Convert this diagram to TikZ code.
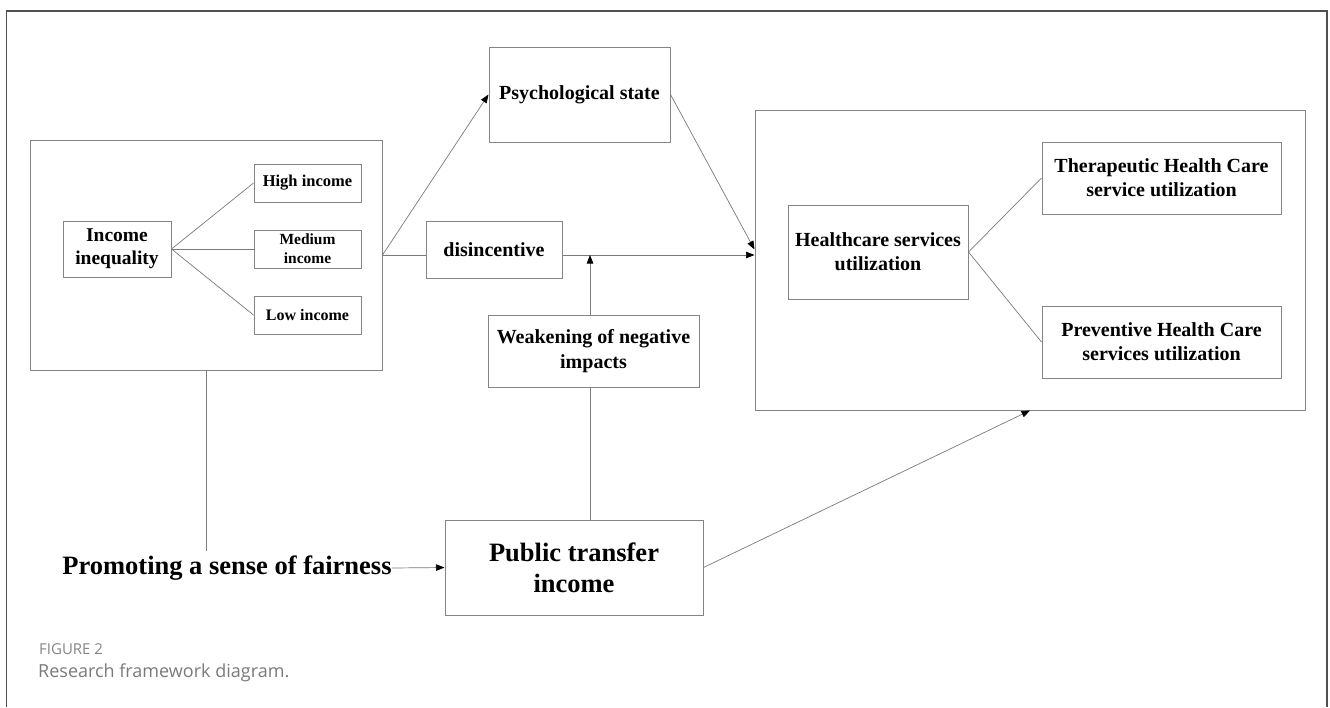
\documentclass[tikz,border=0pt]{standalone}
\usepackage{fontspec}
\setmainfont{Liberation Serif}
\newfontfamily\capfont{Open Sans}
\usetikzlibrary{arrows.meta,calc}
\definecolor{boxgray}{HTML}{858585}
\definecolor{linegray}{HTML}{7A7A7A}
\definecolor{framegray}{HTML}{505050}
\definecolor{capgrayA}{HTML}{858585}
\definecolor{capgrayB}{HTML}{7A7A7A}
\newcommand{\fs}[2]{\fontsize{#1}{#2}\selectfont}
\tikzset{
  x=1pt, y=-1pt,
  box/.style={draw=boxgray, line width=1pt, inner sep=0pt, align=center, font=\bfseries},
  conn/.style={draw=linegray, line width=0.7pt},
  arr/.style={conn, -{Triangle[length=8.5pt,width=6.5pt,color=black]}},
}
\begin{document}
\begin{tikzpicture}
\useasboundingbox (0,0) rectangle (1330,707);
\draw[framegray, line width=1.3pt] (6.7,707) -- (6.7,11) -- (1327,11) -- (1327,707);

% left group
\node[box, minimum width=352pt, minimum height=230pt] (grp) at (206,255) {};
\node[box, minimum width=108pt, minimum height=56pt, font=\bfseries\fs{19.5}{23}] (inc) at (117,249) {Income\\inequality};
\node[box, minimum width=107pt, minimum height=38pt, font=\bfseries\fs{16.5}{19}] (high) at (307.5,183) {High income};
\node[box, minimum width=107pt, minimum height=38pt, font=\bfseries\fs{15.5}{19}] (med) at (307.5,249) {Medium\\income};
\node[box, minimum width=107pt, minimum height=38pt, font=\bfseries\fs{16}{19}] (low) at (307.5,315) {Low income};

% middle
\node[box, minimum width=181pt, minimum height=95pt, font=\bfseries\fs{20}{24}] (psych) at (579.5,94.5) {Psychological state};
\node[box, minimum width=136pt, minimum height=57pt, font=\bfseries\fs{20}{24}] (disinc) at (494,249.5) {disincentive};
\node[box, minimum width=211pt, minimum height=72pt, font=\bfseries\fs{20}{25}] (weak) at (593.5,351) {Weakening of negative\\impacts};
\node[box, minimum width=258pt, minimum height=95pt, font=\bfseries\fs{26.5}{31}] (pub) at (574,567.5) {Public transfer\\income};
\node[inner sep=0pt, font=\bfseries\fs{26.5}{31}] (promo) at (227,568) {Promoting a sense of fairness};
\coordinate (promotop) at (206,551);

% right group
\node[box, minimum width=550pt, minimum height=300pt] (big) at (1030,260) {};
\node[box, minimum width=180pt, minimum height=94pt, font=\bfseries\fs{20}{24}] (hs) at (878,252) {Healthcare services\\utilization};
\node[box, minimum width=239pt, minimum height=72pt, font=\bfseries\fs{20}{24}] (ther) at (1161.5,178) {Therapeutic Health Care\\service utilization};
\node[box, minimum width=239pt, minimum height=72pt, font=\bfseries\fs{20}{24}] (prev) at (1161.5,342) {Preventive Health Care\\services utilization};

% connectors
\draw[conn] (inc.east) -- (high.west);
\draw[conn] (inc.east) -- (med.west);
\draw[conn] (inc.east) -- (low.west);
\draw[conn] (hs.east) -- (ther.west);
\draw[conn] (hs.east) -- (prev.west);

\draw[arr] (grp.east) -- (psych.west);
\draw[conn] (grp.east) -- (grp.east -| disinc.west);
\draw[arr] (disinc.east |- grp.east) -- (big.west |- grp.east);
\draw[arr] (psych.east) -- (big.west |- disinc.east);
\draw[arr] (weak.north -| 590,0) -- (590,255);
\draw[conn] (weak.south -| 590,0) -- (pub.north -| 590,0);
\draw[conn] (grp.south) -- (promotop);
\draw[arr] (promo.east) -- (pub.west);
\draw[arr] (pub.east) -- (big.south);

% caption
\node[anchor=west, inner sep=0pt, font=\capfont\fs{15}{17}, text=capgrayA] (fig) at (39,649) {FIGURE 2};
\node[anchor=west, inner sep=0pt, font=\capfont\fs{18}{21}, text=capgrayB] (capt) at (38,673) {Research framework diagram.};
\end{tikzpicture}
\end{document}
